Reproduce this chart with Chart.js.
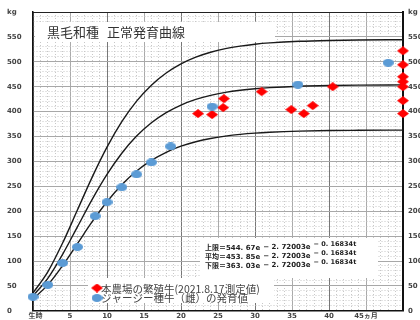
<!DOCTYPE html>
<html>
<head>
<meta charset="utf-8">
<script src="https://cdn.jsdelivr.net/npm/chart.js@4.4.1/dist/chart.umd.min.js"></script>
<style>
  html, body { margin: 0; padding: 0; background: #fff; }
  #growth { display: block; }
</style>
</head>
<body>
<canvas id="growth" width="420" height="320"></canvas>
<script>
// months after birth for the growth curves
var curveMonths = [0, 2, 4, 6, 8, 10, 12, 14, 16, 18, 20, 22, 24, 26, 28, 30, 32, 36, 40, 44, 50];
var upperKg = [35.9, 78.1, 136.0, 202.3, 268.5, 328.6, 379.7, 421.0, 453.1, 477.6, 495.9, 509.4, 519.2, 526.4, 531.5, 535.3, 537.9, 541.2, 542.9, 543.8, 544.4];
var averageKg = [29.9, 65.1, 113.4, 168.5, 223.7, 273.8, 316.4, 350.8, 377.6, 398.0, 413.2, 424.4, 432.6, 438.6, 442.9, 446.0, 448.2, 451.0, 452.4, 453.1, 453.6];
var lowerKg = [23.9, 52.0, 90.7, 134.8, 178.9, 219.0, 253.1, 280.6, 302.0, 318.3, 330.5, 339.5, 346.1, 350.8, 354.3, 356.8, 358.5, 360.7, 361.9, 362.4, 362.9];

// farm cows (measured 2021.8.17)
var farmMonths = [22.3, 24.2, 25.7, 25.8, 30.9, 34.9, 36.6, 37.8, 40.5, 50, 50, 50, 50, 50, 50, 50];
var farmKg = [396, 394, 408, 426, 440, 404, 396, 412, 450, 522, 494, 470, 460, 450, 422, 396];

// jersey heifer growth values
var jerseyMonths = [0, 2, 4, 6, 8.4, 10, 12, 14, 16, 18.6, 24.2, 35.8, 48];
var jerseyKg = [28, 52, 96, 128, 190, 218, 248, 274, 298, 330, 410, 454, 498];

var xLabels = { 0: '  生時', 45: '45ヵ月' };

function pairs(xs, ys) {
  return xs.map(function (x, i) { return { x: x, y: ys[i] }; });
}

function marker(w, h, color, shape) {
  var c = document.createElement('canvas');
  c.width = w; c.height = h;
  var g = c.getContext('2d');
  g.fillStyle = color;
  g.beginPath();
  if (shape === 'diamond') {
    g.moveTo(w / 2, 0); g.lineTo(w, h / 2); g.lineTo(w / 2, h); g.lineTo(0, h / 2);
    g.closePath();
  } else {
    g.ellipse(w / 2, h / 2, w / 2, h / 2, 0, 0, Math.PI * 2);
  }
  g.fill();
  return c;
}

var redDiamond = marker(12, 9, '#ff0000', 'diamond');
var blueDot = marker(11, 8, '#5b9bd5', 'ellipse');

var tickFont = { family: 'DejaVu Sans, Noto Sans CJK JP', size: 7, weight: 'bold' };

// boxes, title, formulas and legend inside the plot
var overlay = {
  id: 'overlay',
  beforeDatasetsDraw: function (chart) {
    var ctx = chart.ctx;
    ctx.save();
    ctx.fillStyle = '#fff';
    ctx.fillRect(35, 22, 240, 20);
    ctx.fillRect(200, 238, 178, 40);
    ctx.fillRect(88, 278, 186, 25);

    ctx.fillStyle = '#333';
    ctx.textBaseline = 'middle';
    ctx.font = '13px "Noto Sans CJK JP"';
    ctx.fillText('黒毛和種', 47, 32);
    ctx.fillText('正常発育曲線', 107, 32);

    var rows = [['上限＝544. 67e', 250], ['平均＝453. 85e', 259], ['下限＝363. 03e', 268]];
    ctx.fillStyle = '#222';
    ctx.textBaseline = 'alphabetic';
    rows.forEach(function (r) {
      var x = 205;
      ctx.font = 'bold 7px "DejaVu Sans", "Noto Sans CJK JP"';
      ctx.fillText(r[0], x, r[1]);
      x += ctx.measureText(r[0]).width + 3;
      ctx.fillText('− 2. 72003e', x, r[1] - 1);
      x += ctx.measureText('− 2. 72003e').width + 3;
      ctx.font = 'bold 6.5px "DejaVu Sans"';
      ctx.fillText('− 0. 16834t', x, r[1] - 4);
    });

    ctx.fillStyle = '#444';
    ctx.textBaseline = 'middle';
    ctx.font = '10.5px "Noto Sans CJK JP"';
    ctx.fillText('本農場の繁殖牛(2021.8.17測定値)', 101, 289);
    ctx.fillText('ジャージー種牛（雌）の発育値', 101, 298);
    ctx.restore();
  },
  afterDatasetsDraw: function (chart) {
    var ctx = chart.ctx;
    ctx.drawImage(redDiamond, 97 - 6, 288 - 4.5);
    ctx.drawImage(blueDot, 97 - 5.5, 298 - 4);
  }
};

function curve(label, ys) {
  return {
    type: 'line', label: label, data: pairs(curveMonths, ys),
    borderColor: '#1a1a1a', borderWidth: 1.4, pointRadius: 0,
    cubicInterpolationMode: 'monotone', order: 3
  };
}

new Chart(document.getElementById('growth'), {
  type: 'scatter',
  data: {
    datasets: [
      curve('上限', upperKg),
      curve('平均', averageKg),
      curve('下限', lowerKg),
      { label: '本農場の繁殖牛', data: pairs(farmMonths, farmKg), pointStyle: redDiamond, clip: false, order: 2 },
      { label: 'ジャージー種牛（雌）の発育値', data: pairs(jerseyMonths, jerseyKg), pointStyle: blueDot, clip: false, order: 1 }
    ]
  },
  options: {
    responsive: false,
    animation: false,
    devicePixelRatio: 1,
    layout: { padding: { left: 7 } },
    plugins: { legend: { display: false }, tooltip: { enabled: false } },
    scales: {
      x: {
        type: 'linear', position: 'bottom', min: 0, max: 50,
        afterFit: function (s) { s.height = 8; },
        ticks: {
          stepSize: 1, autoSkip: false, maxRotation: 0, padding: 1,
          color: '#444', font: tickFont,
          callback: function (v) {
            if (v % 5 !== 0 || v === 50) return '';
            return xLabels[v] || v;
          }
        },
        grid: { color: '#c8c8c8', drawTicks: false },
        border: { color: '#111', width: 1.5, dash: [1, 2] }
      },
      xMajor: {
        type: 'linear', position: 'bottom', min: 0, max: 50,
        afterFit: function (s) { s.height = 0; },
        ticks: { display: false, stepSize: 5 },
        grid: { drawTicks: false, color: function (c) { return c.tick.value % 10 === 0 ? '#777' : '#aaa'; } },
        border: { display: false }
      },
      xTop: {
        type: 'linear', position: 'top', min: 0, max: 50,
        afterFit: function (s) { s.height = 12; },
        ticks: { display: false },
        grid: { display: false },
        border: { color: '#222', width: 1 }
      },
      y: {
        type: 'linear', position: 'left', min: 0, max: 600,
        afterFit: function (s) { s.width = 26; },
        ticks: {
          stepSize: 10, autoSkip: false, crossAlign: 'far',
          color: '#444', font: tickFont,
          callback: function (v) {
            if (v % 50 !== 0) return '';
            return v === 600 ? 'kg' : v;
          }
        },
        grid: { color: '#c8c8c8', drawTicks: false },
        border: { color: '#111', width: 1.5, dash: [1, 2] }
      },
      yMajor: {
        type: 'linear', position: 'left', min: 0, max: 600,
        afterFit: function (s) { s.width = 0; },
        ticks: { display: false, stepSize: 50 },
        grid: { drawTicks: false, color: '#a8a8a8' },
        border: { display: false }
      },
      yRight: {
        type: 'linear', position: 'right', min: 0, max: 600,
        afterFit: function (s) { s.width = 17; },
        ticks: {
          stepSize: 50, autoSkip: false, padding: 5,
          color: '#444', font: tickFont,
          callback: function (v) { return v === 600 ? 'kg' : v; }
        },
        grid: { drawOnChartArea: false, drawTicks: false },
        border: { color: '#111', width: 2 }
      }
    }
  },
  plugins: [overlay]
});
</script>
</body>
</html>
